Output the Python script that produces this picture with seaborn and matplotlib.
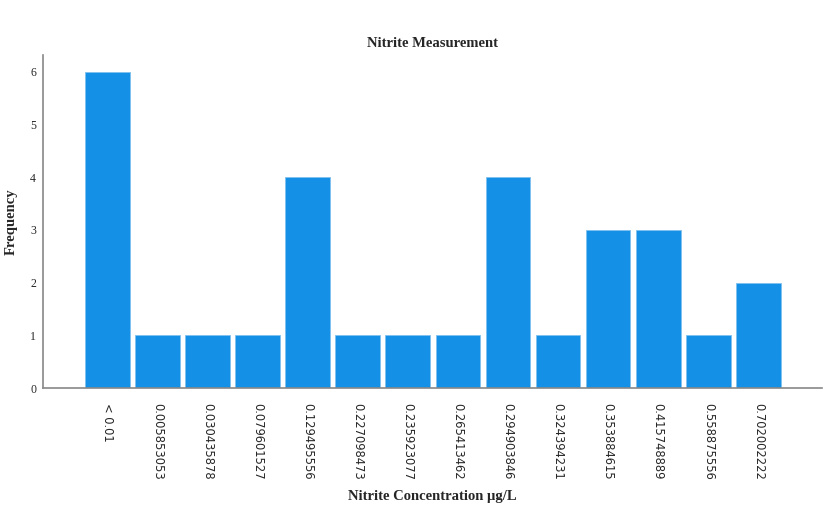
import pandas as pd
import matplotlib
matplotlib.use('Agg')
import matplotlib.pyplot as plt
import seaborn as sns

categories = ['< 0.01', '0.005853053', '0.030435878', '0.079601527', '0.129495556',
              '0.227098473', '0.235923077', '0.265413462', '0.294903846', '0.324394231',
              '0.353884615', '0.415748889', '0.558875556', '0.702002222']
frequency = [6, 1, 1, 1, 4, 1, 1, 1, 4, 1, 3, 3, 1, 2]

df = pd.DataFrame({'Concentration': categories, 'Frequency': frequency})

sns.set_style('white')
plt.rcParams['font.family'] = ['Liberation Serif', 'DejaVu Serif']

fig = plt.figure(figsize=(8.29, 5.28), dpi=100)
ax = fig.add_axes([0.052, 0.265, 0.9396, 0.631])

sns.barplot(data=df, x='Concentration', y='Frequency', color='#1490E6',
            saturation=1, width=0.89, edgecolor='#7fc0f0', linewidth=0.6, ax=ax)

ax.set_xlim(-1.28, len(categories) - 1 + 1.27)
ax.set_ylim(0, 6.32)
ax.set_yticks(range(7))
ax.tick_params(axis='y', labelsize=8.5, length=0, pad=5)
ax.tick_params(axis='x', length=0, pad=11)
for lbl in ax.get_xticklabels():
    lbl.set_rotation(270)
    lbl.set_family(['DejaVu Sans'])
    lbl.set_fontsize(8.3)
    lbl.set_va('top')
    lbl.set_ha('center')

for side in ['top', 'right']:
    ax.spines[side].set_visible(False)
for side in ['left', 'bottom']:
    ax.spines[side].set_color('#888888')
    ax.spines[side].set_linewidth(1.2)

ax.set_title('Nitrite Measurement', fontsize=10.5, fontweight='bold', pad=6)
ax.set_xlabel('Nitrite Concentration µg/L', fontsize=10.5, fontweight='bold', labelpad=7)
ax.set_ylabel('Frequency', fontsize=10.5, fontweight='bold')
ax.yaxis.set_label_coords(-0.033, 0.5)

fig.savefig('out.png', dpi=100)
